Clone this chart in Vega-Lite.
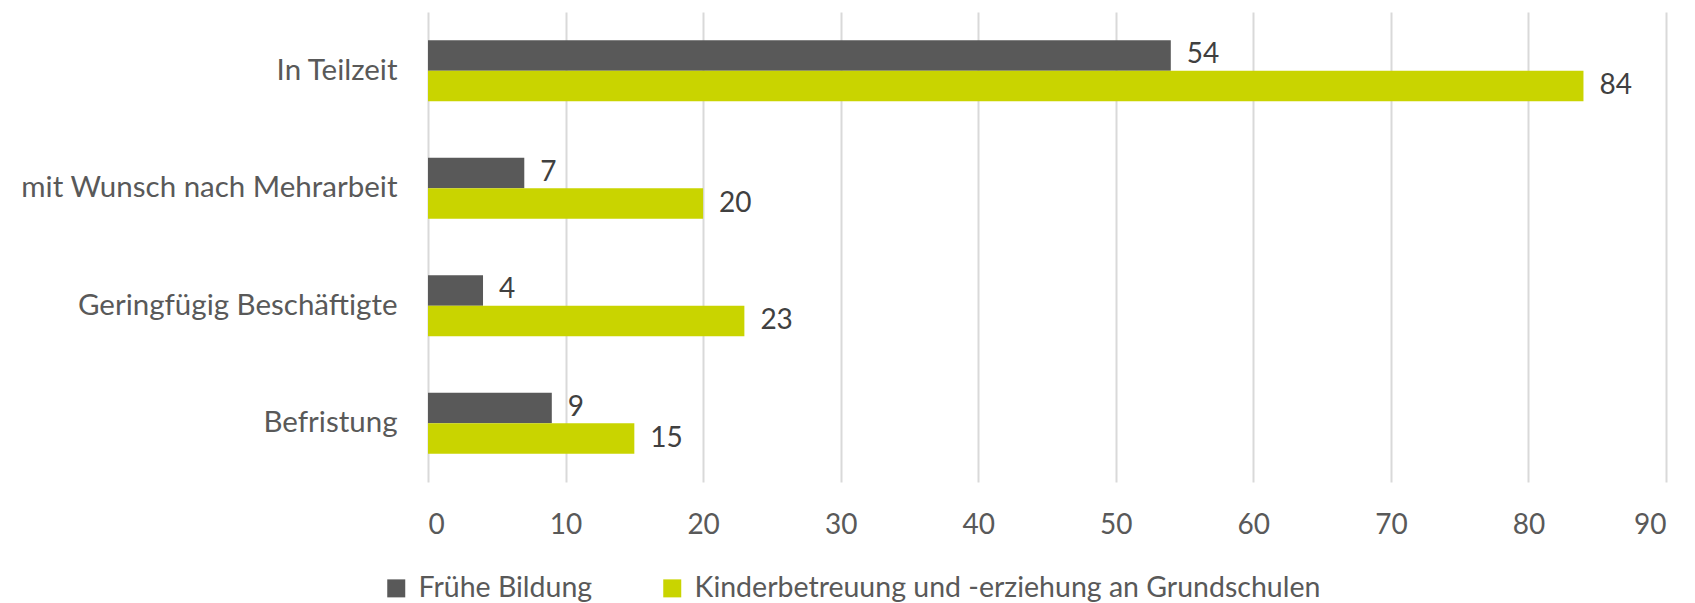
{
  "$schema": "https://vega.github.io/schema/vega-lite/v6.json",
  "width": 1238,
  "height": 470,
  "autosize": {"type": "none"},
  "padding": {"left": 428, "top": 12, "right": 29, "bottom": 121},
  "background": "white",
  "config": {"view": {"stroke": null}, "font": "Lato"},
  "data": {
    "values": [
      {"cat": "In Teilzeit", "series": "Frühe Bildung", "value": 54},
      {"cat": "In Teilzeit", "series": "Kinderbetreuung und -erziehung an Grundschulen", "value": 84},
      {"cat": "mit Wunsch nach Mehrarbeit", "series": "Frühe Bildung", "value": 7},
      {"cat": "mit Wunsch nach Mehrarbeit", "series": "Kinderbetreuung und -erziehung an Grundschulen", "value": 20},
      {"cat": "Geringfügig Beschäftigte", "series": "Frühe Bildung", "value": 4},
      {"cat": "Geringfügig Beschäftigte", "series": "Kinderbetreuung und -erziehung an Grundschulen", "value": 23},
      {"cat": "Befristung", "series": "Frühe Bildung", "value": 9},
      {"cat": "Befristung", "series": "Kinderbetreuung und -erziehung an Grundschulen", "value": 15}
    ]
  },
  "encoding": {
    "y": {
      "field": "cat",
      "type": "nominal",
      "sort": ["In Teilzeit", "mit Wunsch nach Mehrarbeit", "Geringfügig Beschäftigte", "Befristung"],
      "scale": {"paddingInner": 0.48, "paddingOuter": 0.24},
      "axis": {
        "title": null,
        "domain": false,
        "ticks": false,
        "labelFontSize": 29.5,
        "labelColor": "#595959",
        "labelPadding": 31,
        "labelLimit": 1000,
        "labelFont": "Lato"
      }
    },
    "yOffset": {
      "field": "series",
      "sort": ["Frühe Bildung", "Kinderbetreuung und -erziehung an Grundschulen"]
    },
    "x": {
      "field": "value",
      "type": "quantitative",
      "scale": {"domain": [0, 90], "nice": false},
      "axis": {
        "title": null,
        "domain": false,
        "ticks": false,
        "grid": true,
        "gridColor": "#d9d9d9",
        "gridWidth": 2,
        "values": [0, 10, 20, 30, 40, 50, 60, 70, 80, 90],
        "labelFontSize": 28,
        "labelColor": "#595959",
        "labelPadding": 29,
        "labelFont": "Lato"
      }
    }
  },
  "layer": [
    {
      "mark": {"type": "bar"},
      "encoding": {
        "color": {
          "field": "series",
          "type": "nominal",
          "sort": ["Frühe Bildung", "Kinderbetreuung und -erziehung an Grundschulen"],
          "scale": {"range": ["#595959", "#c9d400"]},
          "legend": {
            "title": null,
            "orient": "none",
            "legendX": -46,
            "legendY": 562,
            "direction": "horizontal",
            "symbolType": "square",
            "symbolSize": 324,
            "symbolStrokeWidth": 0,
            "labelFontSize": 28.5,
            "labelColor": "#595959",
            "labelFont": "Lato",
            "labelOffset": 8,
            "columnPadding": 65,
            "labelLimit": 1000
          }
        }
      }
    },
    {
      "mark": {"type": "text", "align": "left", "baseline": "middle", "dx": 16, "fontSize": 28, "color": "#404040", "font": "Lato"},
      "encoding": {"text": {"field": "value", "type": "quantitative"}}
    }
  ]
}
